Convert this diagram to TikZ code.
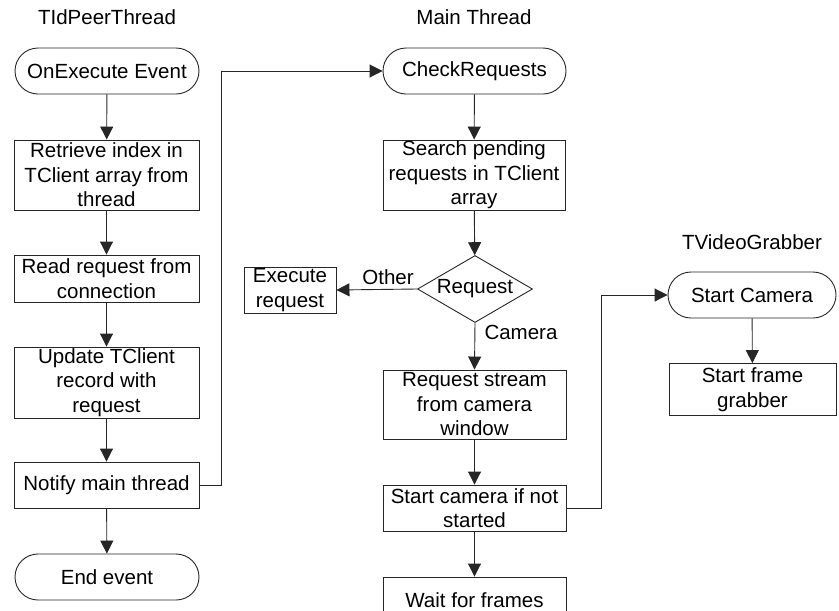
\documentclass[tikz,border=0pt]{standalone}
\usepackage{fontspec}
\setmainfont{Liberation Sans}
\usetikzlibrary{arrows.meta,shapes.geometric,shapes.misc}

\begin{document}
\begin{tikzpicture}[x=1pt,y=-1pt,
  every node/.style={font=\fontsize{20.5}{24.5}\selectfont, inner sep=0pt, align=center},
  line/.style={line width=0.9pt, draw=black!85},
  arr/.style={line, -{Triangle[length=13pt,width=13pt]}},
  proc/.style={rectangle, line, fill=white},
  term/.style={rounded rectangle, line, fill=white, minimum height=46pt},
  decide/.style={diamond, aspect=1.72, line, fill=white, minimum width=115pt, minimum height=67pt},
  title/.style={}
]
\useasboundingbox (0,0) rectangle (839,611);
\clip (0,0) rectangle (839,611);

% column headings
\node[title] (tPeer) at (107,17) {TIdPeerThread};
\node[title] (tMain) at (474,17) {Main Thread};
\node[title] (tGrab) at (752,242) {TVideoGrabber};

% TIdPeerThread column
\node[term, minimum width=184pt] (start) at (107,71) {OnExecute Event};
\node[proc, minimum width=185pt, minimum height=70pt] (retr) at (106.5,175) {Retrieve index in\\TClient array from\\thread};
\node[proc, minimum width=185pt, minimum height=47pt] (read) at (106.5,278.5) {Read request from\\connection};
\node[proc, minimum width=185pt, minimum height=71pt] (upd) at (106.5,382.5) {Update TClient\\record with\\request};
\node[proc, minimum width=185pt, minimum height=46pt] (notify) at (106.5,485) {Notify main thread};
\node[term, minimum width=184pt] (endev) at (107,577) {End event};

% Main thread column
\node[term, minimum width=183pt] (check) at (474.5,71) {CheckRequests};
\node[proc, minimum width=182pt, minimum height=70pt] (search) at (474,175) {Search pending\\requests in TClient\\array};
\node[decide] (req) at (475,289) {Request};
\node[proc, minimum width=92pt, minimum height=46pt] (exec) at (290,290) {Execute\\request};
\node[proc, minimum width=183pt, minimum height=69pt] (stream) at (474.5,404.5) {Request stream\\from camera\\window};
\node[proc, minimum width=183pt, minimum height=46pt] (startcam) at (474.5,508) {Start camera if not\\started};
\node[proc, minimum width=183pt, minimum height=46pt] (wait) at (474.5,600) {Wait for frames};

% TVideoGrabber column
\node[term, minimum width=168pt] (scam) at (752,295) {Start Camera};
\node[proc, minimum width=167pt, minimum height=52pt] (grab) at (752.5,389.5) {Start frame\\grabber};

% bend points of the cross-thread connectors
\coordinate (bendA) at (221,0);
\coordinate (bendB) at (601,0);

% connectors
\draw[arr] (start) -- (retr);
\draw[arr] (retr) -- (read);
\draw[arr] (read) -- (upd);
\draw[arr] (upd) -- (notify);
\draw[arr] (notify) -- (endev);
\draw[arr] (notify.east) -- (notify.east -| bendA) |- (check.west);

\draw[arr] (check) -- (search);
\draw[arr] (search) -- (req);
\draw[arr] (req.west) -- (exec.east);
\draw[arr] (req.south) -- (stream.north);
\draw[arr] (stream) -- (startcam);
\draw[arr] (startcam) -- (wait);
\draw[arr] (startcam.east) -- (startcam.east -| bendB) |- (scam.west);

\draw[arr] (scam) -- (grab);

% branch labels
\node (lOther) at (388,277) {Other};
\node (lCamera) at (521,332) {Camera};
\end{tikzpicture}
\end{document}
